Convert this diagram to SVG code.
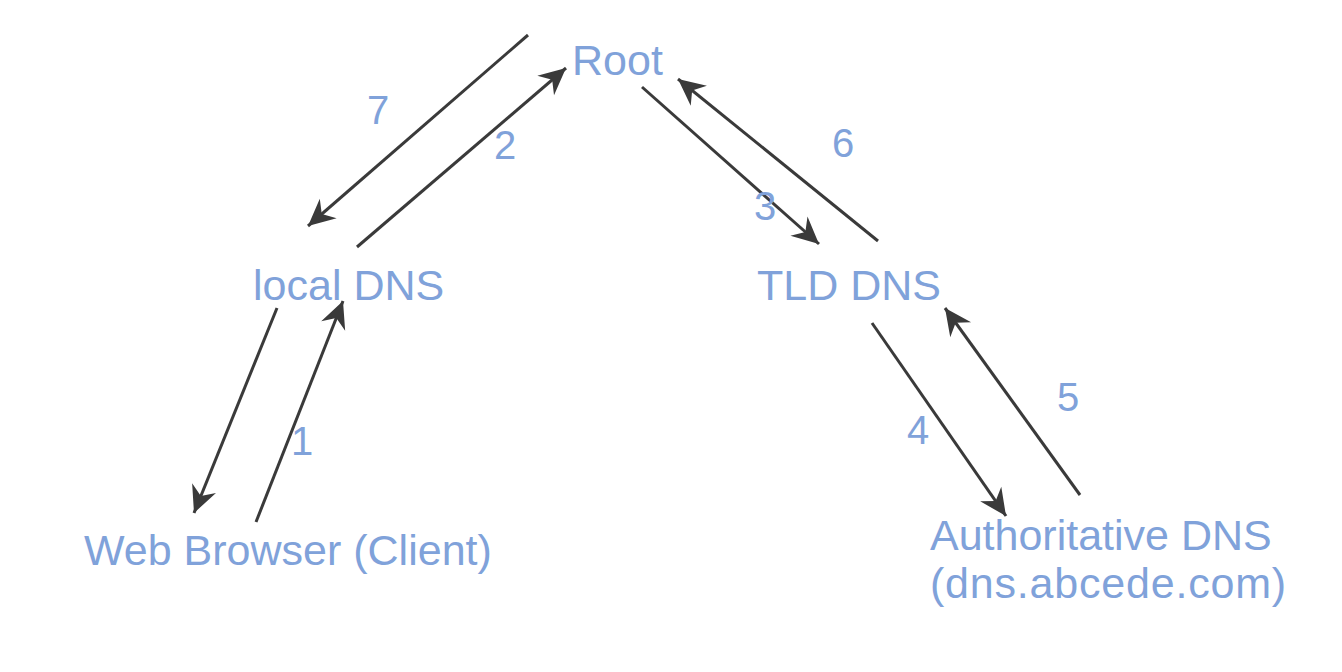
<svg xmlns="http://www.w3.org/2000/svg" width="1342" height="672" viewBox="0 0 1342 672">
<style>
.lbl{font-family:"Liberation Sans",Arial,sans-serif;font-size:43px;fill:#80a2da;}
.num{font-family:"Liberation Sans",Arial,sans-serif;font-size:40px;fill:#80a2da;text-anchor:middle;}
.ar{stroke:#3a3a3a;stroke-width:3;fill:none;marker-end:url(#ah);}
</style>
<defs>
<marker id="ah" markerUnits="userSpaceOnUse" markerWidth="30" markerHeight="30" viewBox="-26 -13 28 26" refX="0" refY="0" orient="auto">
<path d="M0,0 L-25,-12 L-17,0 L-25,12 Z" fill="#3a3a3a"/>
</marker>
</defs>
<rect width="1342" height="672" fill="#ffffff"/>
<g id="root"><text class="lbl" x="572" y="75">Root</text></g>
<g id="local-dns"><text class="lbl" x="253" y="300">local DNS</text></g>
<g id="tld-dns"><text class="lbl" x="757" y="300">TLD DNS</text></g>
<g id="client"><text class="lbl" x="84" y="565">Web Browser (Client)</text></g>
<g id="auth-dns"><text class="lbl" x="930" y="550">Authoritative DNS</text><text class="lbl" x="930" y="598" letter-spacing="0.8">(dns.abcede.com)</text></g>
<g id="connectors">
<line class="ar" x1="256" y1="522" x2="343" y2="301"/>
<line class="ar" x1="357" y1="247" x2="566" y2="68"/>
<line class="ar" x1="642" y1="87" x2="819" y2="244"/>
<line class="ar" x1="872" y1="323" x2="1006" y2="516"/>
<line class="ar" x1="1080" y1="495" x2="945" y2="308"/>
<line class="ar" x1="878" y1="241" x2="678" y2="79"/>
<line class="ar" x1="528" y1="35" x2="308" y2="226"/>
<line class="ar" x1="277" y1="308" x2="194" y2="513"/>
<text class="num" x="302" y="455">1</text>
<text class="num" x="505" y="159">2</text>
<text class="num" x="765" y="220">3</text>
<text class="num" x="918" y="444">4</text>
<text class="num" x="1068" y="411">5</text>
<text class="num" x="843" y="157">6</text>
<text class="num" x="378" y="124">7</text>
</g>
</svg>
